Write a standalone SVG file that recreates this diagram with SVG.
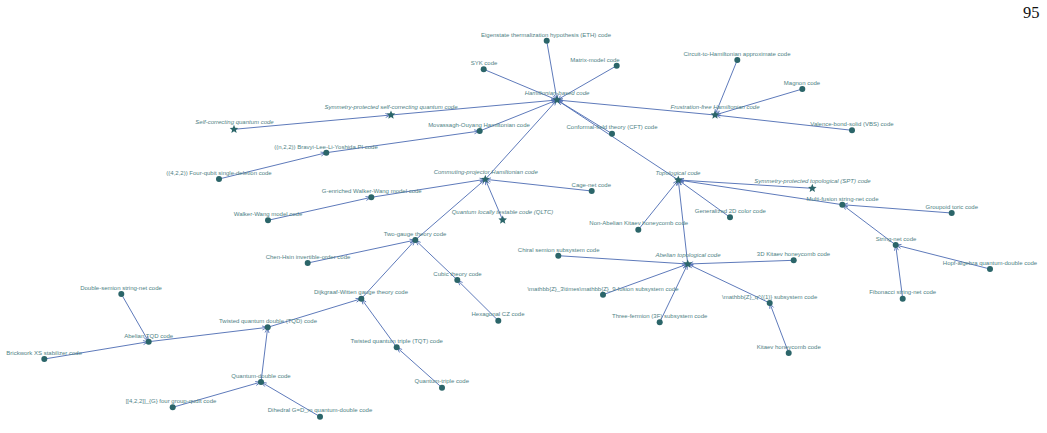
<svg xmlns="http://www.w3.org/2000/svg" xmlns:xlink="http://www.w3.org/1999/xlink" width="1047" height="433" viewBox="0 0 1047 433">
<style>
.e{stroke:#4c6bb2;stroke-width:0.9;fill:none;marker-end:url(#arr)}
.n{fill:#2b6569}
.l{font-family:"Liberation Sans",Arial,sans-serif;font-size:6px;fill:#4f8285;text-anchor:middle}
.i{font-style:italic}
.pg{font-family:"Liberation Serif","Times New Roman",serif;font-size:16.5px;fill:#111}
</style>
<defs>
<marker id="arr" viewBox="0 -3 12 6" refX="9.5" refY="0" markerWidth="12" markerHeight="6" markerUnits="userSpaceOnUse" orient="auto">
<path d="M4,-2 L9,0 L4,2" fill="none" stroke="#4c6bb2" stroke-width="0.8"/>
</marker>
<path id="star" d="M0,-4.5 L1.2,-1.65 L4.28,-1.39 L1.94,0.63 L2.65,3.64 L0,2.04 L-2.65,3.64 L-1.94,0.63 L-4.28,-1.39 L-1.2,-1.65Z"/>
</defs>
<rect width="1047" height="433" fill="#fff"/>
<text class="pg" x="1023" y="17.5">95</text>
<g id="connectors">
<line class="e" x1="546.7" y1="40.7" x2="557" y2="100"/>
<line class="e" x1="483.7" y1="69.3" x2="557" y2="100"/>
<line class="e" x1="616.7" y1="65.7" x2="557" y2="100"/>
<line class="e" x1="391" y1="115" x2="557" y2="100"/>
<line class="e" x1="234" y1="129.3" x2="391" y2="115"/>
<line class="e" x1="479.7" y1="131" x2="557" y2="100"/>
<line class="e" x1="326.3" y1="152.7" x2="479.7" y2="131"/>
<line class="e" x1="219" y1="179" x2="326.3" y2="152.7"/>
<line class="e" x1="612" y1="133.7" x2="557" y2="100"/>
<line class="e" x1="485.3" y1="179.3" x2="557" y2="100"/>
<line class="e" x1="678.3" y1="180" x2="557" y2="100"/>
<line class="e" x1="715" y1="115" x2="557" y2="100"/>
<line class="e" x1="737.3" y1="60" x2="715" y2="115"/>
<line class="e" x1="802.3" y1="89" x2="715" y2="115"/>
<line class="e" x1="852" y1="130.3" x2="715" y2="115"/>
<line class="e" x1="371.3" y1="197.3" x2="485.3" y2="179.3"/>
<line class="e" x1="268" y1="220.3" x2="371.3" y2="197.3"/>
<line class="e" x1="591.7" y1="191" x2="485.3" y2="179.3"/>
<line class="e" x1="502.7" y1="220" x2="485.3" y2="179.3"/>
<line class="e" x1="415.3" y1="240" x2="485.3" y2="179.3"/>
<line class="e" x1="307.7" y1="263" x2="415.3" y2="240"/>
<line class="e" x1="457.3" y1="280" x2="415.3" y2="240"/>
<line class="e" x1="498.3" y1="320.7" x2="457.3" y2="280"/>
<line class="e" x1="361.3" y1="298.7" x2="415.3" y2="240"/>
<line class="e" x1="267.7" y1="327.3" x2="361.3" y2="298.7"/>
<line class="e" x1="396.7" y1="347.3" x2="361.3" y2="298.7"/>
<line class="e" x1="442" y1="387.7" x2="396.7" y2="347.3"/>
<line class="e" x1="148.7" y1="341.7" x2="267.7" y2="327.3"/>
<line class="e" x1="121.3" y1="294" x2="148.7" y2="341.7"/>
<line class="e" x1="44.3" y1="359" x2="148.7" y2="341.7"/>
<line class="e" x1="261" y1="382" x2="267.7" y2="327.3"/>
<line class="e" x1="172.7" y1="407.3" x2="261" y2="382"/>
<line class="e" x1="320" y1="416.7" x2="261" y2="382"/>
<line class="e" x1="638.3" y1="229.7" x2="678.3" y2="180"/>
<line class="e" x1="812.3" y1="188.3" x2="678.3" y2="180"/>
<line class="e" x1="842.3" y1="204.7" x2="678.3" y2="180"/>
<line class="e" x1="730" y1="217.3" x2="678.3" y2="180"/>
<line class="e" x1="687.7" y1="264" x2="678.3" y2="180"/>
<line class="e" x1="951.7" y1="213" x2="842.3" y2="204.7"/>
<line class="e" x1="895.7" y1="245" x2="842.3" y2="204.7"/>
<line class="e" x1="990" y1="269" x2="895.7" y2="245"/>
<line class="e" x1="902.7" y1="298.7" x2="895.7" y2="245"/>
<line class="e" x1="558.3" y1="255.7" x2="687.7" y2="264"/>
<line class="e" x1="793.7" y1="260.3" x2="687.7" y2="264"/>
<line class="e" x1="603" y1="294.7" x2="687.7" y2="264"/>
<line class="e" x1="659.7" y1="322.3" x2="687.7" y2="264"/>
<line class="e" x1="769.7" y1="303" x2="687.7" y2="264"/>
<line class="e" x1="788.7" y1="353" x2="769.7" y2="303"/>
</g>
<g id="hamiltonian-based"><use xlink:href="#star" class="n" x="557" y="100"/><text class="l i" x="557" y="95">Hamiltonian-based code</text></g>
<g id="eth"><circle class="n" cx="546.7" cy="40.7" r="3"/><text class="l" x="546" y="36.7">Eigenstate thermalization hypothesis (ETH) code</text></g>
<g id="syk"><circle class="n" cx="483.7" cy="69.3" r="3"/><text class="l" x="484" y="64.7">SYK code</text></g>
<g id="matrix-model"><circle class="n" cx="616.7" cy="65.7" r="3"/><text class="l" x="595" y="62">Matrix-model code</text></g>
<g id="sp-self-correcting"><use xlink:href="#star" class="n" x="391" y="115"/><text class="l i" x="391" y="108.5">Symmetry-protected self-correcting quantum code</text></g>
<g id="self-correcting"><use xlink:href="#star" class="n" x="234" y="129.3"/><text class="l i" x="234.5" y="124">Self-correcting quantum code</text></g>
<g id="movassagh-ouyang"><circle class="n" cx="479.7" cy="131" r="3"/><text class="l" x="479" y="127">Movassagh-Ouyang Hamiltonian code</text></g>
<g id="cft"><circle class="n" cx="612" cy="133.7" r="3"/><text class="l" x="612" y="129">Conformal-field theory (CFT) code</text></g>
<g id="circuit-to-hamiltonian"><circle class="n" cx="737.3" cy="60" r="3"/><text class="l" x="737" y="55.7">Circuit-to-Hamiltonian approximate code</text></g>
<g id="magnon"><circle class="n" cx="802.3" cy="89" r="3"/><text class="l" x="802" y="84.7">Magnon code</text></g>
<g id="frustration-free"><use xlink:href="#star" class="n" x="715" y="115"/><text class="l i" x="715" y="109">Frustration-free Hamiltonian code</text></g>
<g id="vbs"><circle class="n" cx="852" cy="130.3" r="3"/><text class="l" x="852" y="126">Valence-bond-solid (VBS) code</text></g>
<g id="bravyi-lee-li-yoshida"><circle class="n" cx="326.3" cy="152.7" r="3"/><text class="l" x="326" y="148.7">((n,2,2)) Bravyi-Lee-Li-Yoshida PI code</text></g>
<g id="four-qubit-deletion"><circle class="n" cx="219" cy="179" r="3"/><text class="l" x="219" y="175.3">((4,2,2)) Four-qubit single-deletion code</text></g>
<g id="walker-wang"><circle class="n" cx="268" cy="220.3" r="3"/><text class="l" x="268" y="216">Walker-Wang model code</text></g>
<g id="chen-hsin"><circle class="n" cx="307.7" cy="263" r="3"/><text class="l" x="308" y="258.7">Chen-Hsin invertible-order code</text></g>
<g id="double-semion"><circle class="n" cx="121.3" cy="294" r="3"/><text class="l" x="121" y="289.7">Double-semion string-net code</text></g>
<g id="commuting-projector"><use xlink:href="#star" class="n" x="485.3" y="179.3"/><text class="l i" x="485.7" y="174">Commuting-projector Hamiltonian code</text></g>
<g id="g-enriched-walker-wang"><circle class="n" cx="371.3" cy="197.3" r="3"/><text class="l" x="371.7" y="193">G-enriched Walker-Wang model code</text></g>
<g id="cage-net"><circle class="n" cx="591.7" cy="191" r="3"/><text class="l" x="591.3" y="186.7">Cage-net code</text></g>
<g id="qltc"><use xlink:href="#star" class="n" x="502.7" y="220"/><text class="l i" x="502.5" y="214.3">Quantum locally testable code (QLTC)</text></g>
<g id="two-gauge"><circle class="n" cx="415.3" cy="240" r="3"/><text class="l" x="415" y="235.7">Two-gauge theory code</text></g>
<g id="non-abelian-kitaev"><circle class="n" cx="638.3" cy="229.7" r="3"/><text class="l" x="638.7" y="225.3">Non-Abelian Kitaev honeycomb code</text></g>
<g id="topological"><use xlink:href="#star" class="n" x="678.3" y="180"/><text class="l i" x="678" y="174.7">Topological code</text></g>
<g id="chiral-semion"><circle class="n" cx="558.3" cy="255.7" r="3"/><text class="l" x="558.7" y="251.7">Chiral semion subsystem code</text></g>
<g id="cubic-theory"><circle class="n" cx="457.3" cy="280" r="3"/><text class="l" x="457.5" y="276">Cubic theory code</text></g>
<g id="abelian-topological"><use xlink:href="#star" class="n" x="687.7" y="264"/><text class="l i" x="688" y="257.3">Abelian topological code</text></g>
<g id="spt"><use xlink:href="#star" class="n" x="812.3" y="188.3"/><text class="l i" x="812.5" y="182.7">Symmetry-protected topological (SPT) code</text></g>
<g id="multi-fusion"><circle class="n" cx="842.3" cy="204.7" r="3"/><text class="l" x="842.5" y="201">Multi-fusion string-net code</text></g>
<g id="groupoid-toric"><circle class="n" cx="951.7" cy="213" r="3"/><text class="l" x="951.8" y="208.7">Groupoid toric code</text></g>
<g id="generalized-color"><circle class="n" cx="730" cy="217.3" r="3"/><text class="l" x="730.3" y="213">Generalized 2D color code</text></g>
<g id="string-net"><circle class="n" cx="895.7" cy="245" r="3"/><text class="l" x="896" y="241">String-net code</text></g>
<g id="kitaev-3d"><circle class="n" cx="793.7" cy="260.3" r="3"/><text class="l" x="793.5" y="256">3D Kitaev honeycomb code</text></g>
<g id="hopf-algebra"><circle class="n" cx="990" cy="269" r="3"/><text class="l" x="990" y="265">Hopf-algebra quantum-double code</text></g>
<g id="fibonacci"><circle class="n" cx="902.7" cy="298.7" r="3"/><text class="l" x="902.7" y="294">Fibonacci string-net code</text></g>
<g id="zq-subsystem"><circle class="n" cx="769.7" cy="303" r="3"/><text class="l" x="769.7" y="299">\mathbb{Z}_q^{(1)} subsystem code</text></g>
<g id="kitaev-honeycomb"><circle class="n" cx="788.7" cy="353" r="3"/><text class="l" x="788.7" y="349">Kitaev honeycomb code</text></g>
<g id="z3z9-fusion"><circle class="n" cx="603" cy="294.7" r="3"/><text class="l" x="603" y="290.7">\mathbb{Z}_3\times\mathbb{Z}_9-fusion subsystem code</text></g>
<g id="three-fermion"><circle class="n" cx="659.7" cy="322.3" r="3"/><text class="l" x="659.7" y="317.7">Three-fermion (3F) subsystem code</text></g>
<g id="hexagonal-cz"><circle class="n" cx="498.3" cy="320.7" r="3"/><text class="l" x="498" y="315.7">Hexagonal CZ code</text></g>
<g id="dijkgraaf-witten"><circle class="n" cx="361.3" cy="298.7" r="3"/><text class="l" x="361" y="294">Dijkgraaf-Witten gauge theory code</text></g>
<g id="tqt"><circle class="n" cx="396.7" cy="347.3" r="3"/><text class="l" x="396.7" y="342.7">Twisted quantum triple (TQT) code</text></g>
<g id="quantum-triple"><circle class="n" cx="442" cy="387.7" r="3"/><text class="l" x="441.8" y="382.7">Quantum-triple code</text></g>
<g id="abelian-tqd"><circle class="n" cx="148.7" cy="341.7" r="3"/><text class="l" x="148.7" y="337.7">Abelian TQD code</text></g>
<g id="brickwork-xs"><circle class="n" cx="44.3" cy="359" r="3"/><text class="l" x="44.2" y="354.7">Brickwork XS stabilizer code</text></g>
<g id="tqd"><circle class="n" cx="267.7" cy="327.3" r="3"/><text class="l" x="268" y="323.3">Twisted quantum double (TQD) code</text></g>
<g id="quantum-double"><circle class="n" cx="261" cy="382" r="3"/><text class="l" x="261" y="378.3">Quantum-double code</text></g>
<g id="four-group-qudit"><circle class="n" cx="172.7" cy="407.3" r="3"/><text class="l" x="171" y="402.7">[[4,2,2]]_{G} four group-qudit code</text></g>
<g id="dihedral"><circle class="n" cx="320" cy="416.7" r="3"/><text class="l" x="320" y="412.3">Dihedral G=D_m quantum-double code</text></g>
</svg>
